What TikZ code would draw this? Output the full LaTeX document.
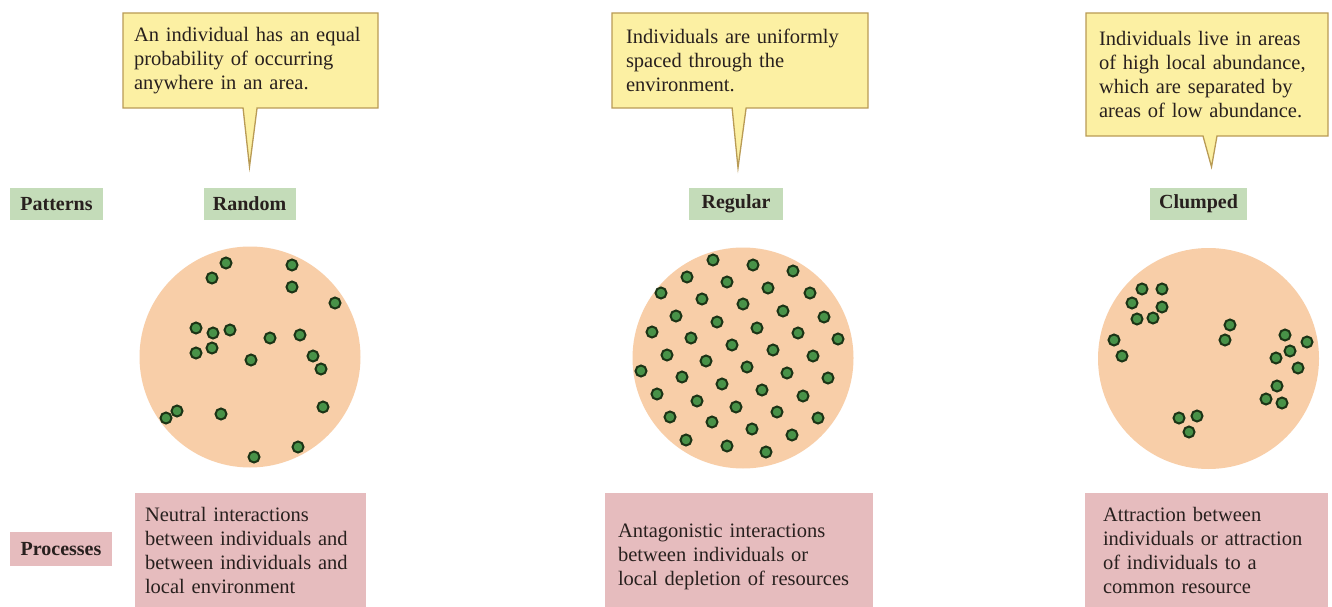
\documentclass[tikz,border=0pt]{standalone}
\usepackage{fontspec}
\setmainfont{Liberation Serif}
\usetikzlibrary{shapes.callouts}
\definecolor{callfill}{RGB}{252,240,163}
\definecolor{callline}{RGB}{185,155,85}
\definecolor{labgreen}{RGB}{196,220,185}
\definecolor{procpink}{RGB}{230,188,190}
\definecolor{peach}{RGB}{248,206,168}
\definecolor{dotfill}{RGB}{72,146,72}
\definecolor{dotline}{RGB}{28,52,22}
\definecolor{ink}{RGB}{40,32,30}
\begin{document}
\begin{tikzpicture}[x=1pt,y=-1pt,
  body/.style={font=\fontsize{20.5}{24}\selectfont, text=ink},
  callbox/.style={rectangle callout, draw=callline, fill=callfill, line width=1.3pt,
    body, align=left, inner ysep=0pt, callout pointer width=14pt},
  lab/.style={fill=labgreen, font=\fontsize{20}{24}\selectfont\bfseries, text=ink,
    minimum height=32pt, inner sep=0pt},
  plab/.style={fill=procpink, font=\fontsize{20}{24}\selectfont\bfseries, text=ink,
    minimum height=34pt, inner sep=0pt},
  proc/.style={fill=procpink, body, align=left, inner ysep=0pt},
  area/.style={circle, fill=peach, minimum size=221pt, inner sep=0pt},
  dot/.style={fill=dotfill, draw=dotline, line width=2pt}]
\clip (0,0) rectangle (1332,607);
\fill[white] (0,0) rectangle (1332,607);

% labels
\node[lab, minimum width=93pt] (pat) at (56.5,204) {Patterns};
\node[lab, minimum width=92pt] (rand) at (249.5,204) {Random};
\node[lab, minimum width=94pt] (reg) at (736,204) {Regular};
\node[lab, minimum width=97pt] (clump) at (1198.5,204) {Clumped};
\node[plab, minimum width=102pt] (proc) at (61,549) {Processes};

% callouts
\node[callbox, inner xsep=11pt, text width=233pt, minimum height=95pt,
  callout absolute pointer={([yshift=21pt]rand.north)}] (c1) at (250.5,60.5)
  {An individual has an equal\\probability of occurring\\anywhere in an area.};
\node[callbox, inner xsep=14pt, text width=228pt, minimum height=95pt,
  callout absolute pointer={([xshift=2pt,yshift=20pt]reg.north)}] (c2) at (740,60.5)
  {Individuals are uniformly\\spaced through the\\environment.};
\node[callbox, inner xsep=13pt, text width=216pt, minimum height=123pt,
  callout absolute pointer={([xshift=13pt,yshift=21pt]clump.north)}] (c3) at (1207,74.5)
  {Individuals live in areas\\of high local abundance,\\which are separated by\\areas of low abundance.};

% areas
\node[area] (a1) at (250,357) {};
\node[area] (a2) at (743,358) {};
\node[area] (a3) at (1208.5,358.5) {};

% random dots
\foreach \p in {(226,263),(292,265),(212,278),(292,287),(335,303),(196,328),(213,333),
  (230,330),(270,338),(300,335),(196,353),(212,348),(251,360),(313,356),(321,369),
  (177,411),(166,418),(221,414),(323,407),(298,447),(254,457)}
  \draw[dot] \p circle[radius=5.5pt];

% regular dots
\foreach \p in {(713,260),(753,265),(793,271),(687,277),(727,282),(768,288),(810,293),
  (661,293),(702,299),(743,304),(783,311),(824,317),(676,316),(717,322),(757,328),
  (798,333),(838,339),(652,332),(691,338),(732,345),(773,350),(813,356),(667,355),
  (706,361),(747,367),(787,373),(828,378),(641,371),(682,377),(722,384),(762,390),
  (803,396),(657,394),(697,401),(736,407),(777,412),(818,418),(670,417),(712,422),
  (752,429),(792,435),(686,440),(727,446),(766,452)}
  \draw[dot] \p circle[radius=5.5pt];

% clumped dots
\foreach \p in {(1142,289),(1162,289),(1132,303),(1162,307),(1137,319),(1153,318),
  (1114,340),(1122,356),(1230,325),(1225,340),(1285,335),(1307,342),(1290,351),
  (1276,358),(1298,368),(1277,386),(1266,399),(1282,403),(1179,418),(1197,416),
  (1189,432)}
  \draw[dot] \p circle[radius=5.5pt];

% process boxes
\node[proc, inner xsep=10pt, text width=211pt, minimum height=114pt] (p1) at (250.5,550)
  {Neutral interactions\\between individuals and\\between individuals and\\local environment};
\node[proc, inner xsep=13pt, text width=242pt, minimum height=128pt] (p2) at (739,557)
  {Antagonistic interactions\\between individuals or\\local depletion of resources};
\node[proc, inner xsep=18pt, text width=207pt, minimum height=114pt] (p3) at (1206.5,550)
  {Attraction between\\individuals or attraction\\of individuals to a\\common resource};
\end{tikzpicture}
\end{document}
